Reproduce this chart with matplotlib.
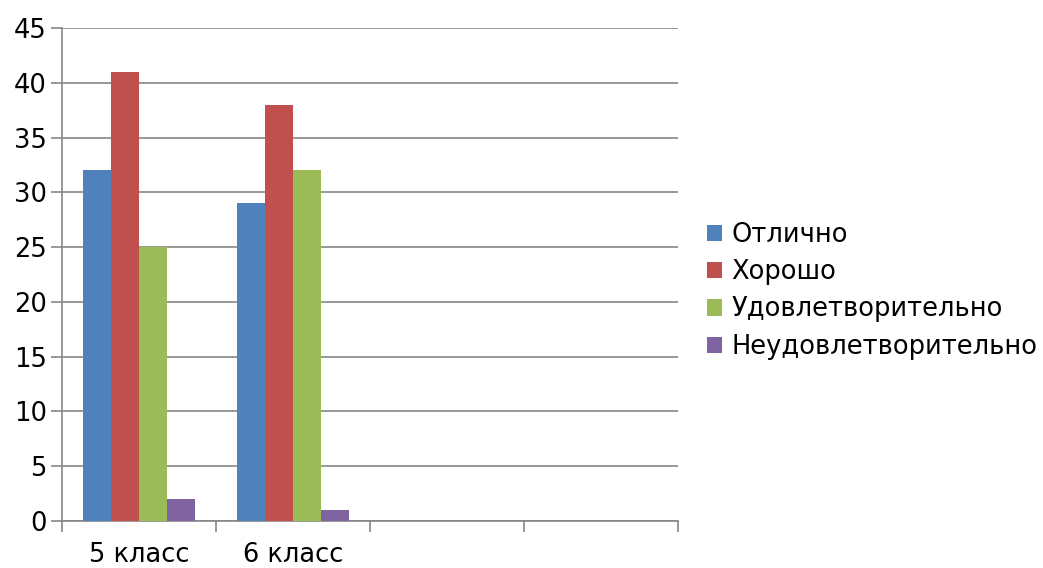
import numpy as np
import matplotlib.pyplot as plt

# ── Data ─────────────────────────────────────────────
CATEGORIES = ['5 класс', '6 класс', '', '']
SERIES = ['Отлично', 'Хорошо', 'Удовлетворительно', 'Неудовлетворительно']
VALUES = [
    [32, 29, 0, 0],   # Отлично
    [41, 38, 0, 0],   # Хорошо
    [25, 32, 0, 0],   # Удовлетворительно
    [2, 1, 0, 0],     # Неудовлетворительно
]
COLORS = ['#4F81BD', '#C0504D', '#9BBB59', '#8064A2']
GRID = '#868686'
FS = 18.5

plt.rcParams['font.family'] = ['DejaVu Sans']

fig = plt.figure(figsize=(10.43, 5.68), dpi=100)
ax = fig.add_axes([62 / 1043, 1 - 521 / 568, 616 / 1043, 493 / 568])

x = np.arange(len(CATEGORIES))
w = 28 / 154
for i, (name, vals, col) in enumerate(zip(SERIES, VALUES, COLORS)):
    ax.bar(x + (i - 1.5) * w, vals, width=w, color=col, label=name, zorder=3)

ax.set_xlim(-0.5, len(CATEGORIES) - 0.5)
ax.set_ylim(0, 45)
ax.set_yticks(range(0, 46, 5))
ax.grid(axis='y', color=GRID, linewidth=1.2, zorder=0)

# category boundaries as major ticks, labels at centres
ax.set_xticks(np.arange(-0.5, len(CATEGORIES), 1))
ax.set_xticklabels([])
ax.set_xticks(x, minor=True)
ax.set_xticklabels(CATEGORIES, minor=True, fontsize=FS)
ax.tick_params(axis='x', which='minor', length=0, pad=15)
ax.tick_params(axis='x', which='major', length=8, width=1.2, color=GRID)
ax.tick_params(axis='y', length=8, width=1.2, color=GRID, labelsize=FS, pad=3)

for side in ['top', 'right']:
    ax.spines[side].set_visible(False)
for side in ['left', 'bottom']:
    ax.spines[side].set_color(GRID)
    ax.spines[side].set_linewidth(1.2)

ax.legend(loc='center left', bbox_to_anchor=(1.047, 0.467), frameon=False,
          fontsize=FS, handlelength=0.6, handleheight=0.6,
          handletextpad=0.35, labelspacing=0.44, borderaxespad=0,
          borderpad=0)

fig.savefig('out.png', dpi=100)
